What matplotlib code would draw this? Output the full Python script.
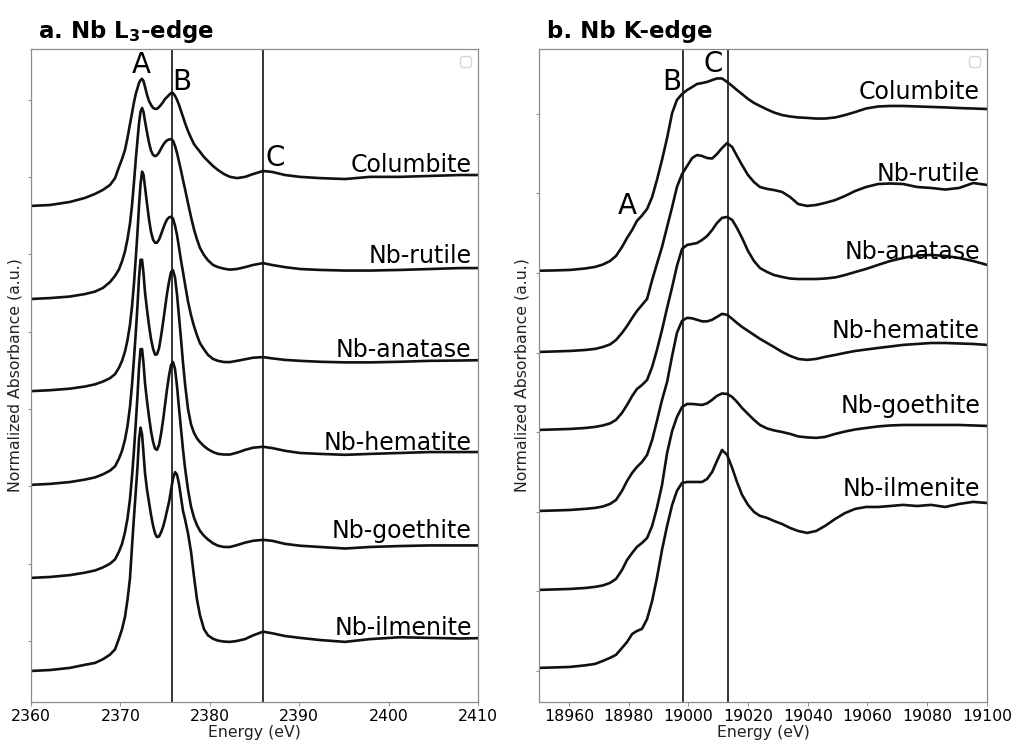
import numpy as np
import matplotlib
matplotlib.use('Agg')
import matplotlib.pyplot as plt

# ---- Nb L3-edge (panel a): common energy grid, normalized absorbance without offset ----
energy_l3 = [2360.00, 2362.13, 2364.36, 2366.04, 2367.16, 2368.05, 2368.84, 2369.40, 2369.84, 2370.18,
             2370.51, 2370.79, 2371.07, 2371.30, 2371.52, 2371.74, 2371.91, 2372.08, 2372.25, 2372.42,
             2372.58, 2372.75, 2372.98, 2373.20, 2373.42, 2373.65, 2373.87, 2374.09, 2374.32, 2374.54,
             2374.77, 2374.99, 2375.21, 2375.44, 2375.66, 2375.88, 2376.11, 2376.33, 2376.55, 2376.78,
             2377.00, 2377.23, 2377.56, 2377.90, 2378.23, 2378.57, 2378.90, 2379.35, 2379.80, 2380.36,
             2380.92, 2381.59, 2382.26, 2383.04, 2383.94, 2384.83, 2385.95, 2386.96, 2388.41, 2390.09,
             2392.33, 2395.12, 2397.92, 2401.28, 2404.63, 2407.99, 2410.00]

columbite_l3 = [-0.93, -0.90, -0.80, -0.67, -0.54, -0.41, -0.25, -0.03, 0.33, 0.59,
                0.88, 1.27, 1.72, 2.08, 2.43, 2.72, 2.88, 3.05, 3.14, 3.18,
                3.11, 2.92, 2.66, 2.46, 2.34, 2.24, 2.21, 2.21, 2.27, 2.34,
                2.43, 2.53, 2.59, 2.66, 2.72, 2.72, 2.63, 2.50, 2.34, 2.14,
                1.95, 1.75, 1.49, 1.27, 1.07, 0.94, 0.82, 0.65, 0.52, 0.36,
                0.23, 0.10, 0.01, -0.03, 0.01, 0.10, 0.20, 0.17, 0.07, 0.01,
                -0.03, -0.06, 0.01, 0.01, 0.04, 0.07, 0.07]
rutile_l3 = [-0.94, -0.91, -0.86, -0.78, -0.70, -0.58, -0.39, -0.19, 0.02, 0.28,
             0.60, 1.00, 1.50, 2.10, 2.85, 3.65, 4.20, 4.75, 5.12, 5.24,
             5.11, 4.81, 4.44, 4.11, 3.86, 3.72, 3.68, 3.71, 3.80, 3.92,
             4.04, 4.13, 4.19, 4.22, 4.23, 4.18, 4.01, 3.78, 3.51, 3.21,
             2.91, 2.61, 2.16, 1.71, 1.31, 0.98, 0.71, 0.48, 0.31, 0.16,
             0.09, 0.04, 0.01, 0.03, 0.09, 0.16, 0.22, 0.16, 0.09, 0.03,
             0.00, -0.02, -0.02, 0.00, 0.03, 0.06, 0.06]
anatase_l3 = [-0.92, -0.89, -0.84, -0.77, -0.70, -0.61, -0.50, -0.37, -0.16, 0.06,
              0.36, 0.73, 1.23, 1.83, 2.58, 3.48, 4.23, 5.08, 5.78, 6.18,
              6.08, 5.68, 5.13, 4.63, 4.23, 3.98, 3.88, 3.88, 3.98, 4.15,
              4.33, 4.50, 4.63, 4.70, 4.72, 4.66, 4.43, 4.13, 3.73, 3.30,
              2.93, 2.53, 1.98, 1.53, 1.18, 0.88, 0.63, 0.43, 0.25, 0.12,
              0.06, 0.02, 0.02, 0.06, 0.11, 0.16, 0.18, 0.14, 0.09, 0.06,
              0.03, 0.01, 0.01, 0.03, 0.06, 0.07, 0.08]
hematite_l3 = [-0.95, -0.92, -0.86, -0.78, -0.71, -0.61, -0.49, -0.35, -0.10, 0.15,
               0.51, 0.95, 1.57, 2.30, 3.15, 4.07, 4.85, 5.75, 6.33, 6.33,
               5.90, 5.27, 4.70, 4.20, 3.77, 3.45, 3.26, 3.27, 3.47, 3.85,
               4.30, 4.77, 5.23, 5.63, 5.93, 5.99, 5.75, 5.20, 4.50, 3.75,
               3.00, 2.30, 1.50, 1.00, 0.73, 0.55, 0.43, 0.30, 0.20, 0.11,
               0.05, 0.03, 0.03, 0.09, 0.18, 0.25, 0.28, 0.24, 0.15, 0.08,
               0.05, 0.02, 0.05, 0.08, 0.11, 0.11, 0.11]
goethite_l3 = [-0.96, -0.93, -0.87, -0.79, -0.72, -0.62, -0.50, -0.36, -0.11, 0.14,
               0.52, 0.96, 1.59, 2.34, 3.19, 4.14, 4.94, 5.84, 6.44, 6.44,
               5.99, 5.34, 4.74, 4.24, 3.79, 3.44, 3.22, 3.18, 3.34, 3.69,
               4.14, 4.64, 5.14, 5.59, 5.92, 6.02, 5.79, 5.24, 4.54, 3.84,
               3.19, 2.59, 1.89, 1.34, 0.99, 0.74, 0.56, 0.40, 0.28, 0.16,
               0.08, 0.04, 0.04, 0.10, 0.18, 0.24, 0.27, 0.24, 0.14, 0.08,
               0.04, -0.01, 0.04, 0.07, 0.09, 0.09, 0.09]
ilmenite_l3 = [-0.97, -0.94, -0.87, -0.77, -0.71, -0.59, -0.44, -0.27, 0.08, 0.38,
               0.78, 1.33, 2.03, 3.08, 4.03, 4.93, 5.63, 6.53, 6.90, 6.68,
               6.08, 5.43, 4.88, 4.48, 4.08, 3.73, 3.48, 3.36, 3.38, 3.51,
               3.69, 3.93, 4.21, 4.50, 4.88, 5.25, 5.46, 5.38, 5.08, 4.63,
               4.21, 3.93, 3.48, 2.88, 2.08, 1.33, 0.83, 0.38, 0.18, 0.07,
               0.01, -0.02, -0.03, 0.00, 0.06, 0.18, 0.30, 0.25, 0.16, 0.10,
               0.03, -0.03, 0.06, 0.12, 0.10, 0.08, 0.09]

# ---- Nb K-edge (panel b): common energy grid, normalized absorbance without offset ----
energy_k = [18950.0, 18955.4, 18960.4, 18965.4, 18968.8, 18971.4, 18973.8, 18975.8, 18977.8, 18979.5,
            18981.2, 18982.8, 18984.5, 18986.2, 18987.9, 18989.5, 18991.2, 18992.9, 18994.6, 18996.2,
            18997.9, 18999.6, 19001.3, 19002.9, 19004.6, 19006.3, 19008.0, 19009.6, 19011.3, 19013.0,
            19014.7, 19016.3, 19018.0, 19020.0, 19022.0, 19024.0, 19026.4, 19028.7, 19031.4, 19034.1,
            19036.8, 19039.8, 19042.8, 19045.8, 19049.2, 19052.5, 19055.9, 19059.5, 19063.6, 19067.6,
            19071.9, 19076.6, 19081.3, 19086.0, 19090.7, 19095.4, 19100.0]

columbite_k = [0.014, 0.016, 0.019, 0.028, 0.038, 0.053, 0.075, 0.107, 0.163, 0.220,
               0.270, 0.327, 0.361, 0.402, 0.477, 0.584, 0.710, 0.848, 1.005, 1.087,
               1.124, 1.149, 1.168, 1.187, 1.193, 1.200, 1.212, 1.222, 1.222, 1.200,
               1.175, 1.149, 1.124, 1.093, 1.068, 1.049, 1.027, 1.008, 0.992, 0.983,
               0.977, 0.974, 0.970, 0.970, 0.977, 0.992, 1.011, 1.033, 1.046, 1.049,
               1.049, 1.046, 1.043, 1.040, 1.036, 1.033, 1.030]
rutile_k = [0.004, 0.007, 0.010, 0.016, 0.023, 0.035, 0.051, 0.079, 0.123, 0.167,
            0.217, 0.261, 0.299, 0.337, 0.456, 0.557, 0.663, 0.789, 0.915, 1.040,
            1.121, 1.172, 1.222, 1.241, 1.235, 1.222, 1.219, 1.247, 1.285, 1.316,
            1.291, 1.235, 1.178, 1.115, 1.071, 1.040, 1.028, 1.021, 1.009, 0.977,
            0.933, 0.921, 0.927, 0.940, 0.958, 0.984, 1.015, 1.040, 1.059, 1.062,
            1.059, 1.040, 1.034, 1.024, 1.034, 1.065, 1.053]
anatase_k = [0.014, 0.017, 0.020, 0.026, 0.033, 0.042, 0.055, 0.077, 0.121, 0.171,
             0.227, 0.271, 0.296, 0.328, 0.410, 0.516, 0.642, 0.780, 0.912, 1.044,
             1.151, 1.176, 1.182, 1.188, 1.207, 1.232, 1.270, 1.314, 1.346, 1.352,
             1.333, 1.283, 1.220, 1.138, 1.075, 1.031, 1.006, 0.987, 0.975, 0.965,
             0.962, 0.962, 0.962, 0.965, 0.972, 0.987, 1.006, 1.025, 1.051, 1.075,
             1.094, 1.110, 1.113, 1.107, 1.094, 1.075, 1.051]
hematite_k = [0.005, 0.008, 0.011, 0.018, 0.024, 0.033, 0.049, 0.074, 0.131, 0.193,
              0.244, 0.281, 0.313, 0.357, 0.451, 0.570, 0.702, 0.815, 0.980, 1.124,
              1.199, 1.218, 1.215, 1.206, 1.196, 1.196, 1.206, 1.224, 1.243, 1.237,
              1.212, 1.186, 1.161, 1.136, 1.111, 1.086, 1.060, 1.035, 1.004, 0.979,
              0.960, 0.954, 0.960, 0.973, 0.985, 0.998, 1.010, 1.019, 1.029, 1.038,
              1.048, 1.054, 1.060, 1.060, 1.057, 1.054, 1.048]
goethite_k = [0.009, 0.012, 0.015, 0.021, 0.028, 0.037, 0.053, 0.078, 0.134, 0.197,
              0.241, 0.279, 0.304, 0.335, 0.411, 0.524, 0.668, 0.869, 1.008, 1.095,
              1.158, 1.177, 1.177, 1.174, 1.171, 1.181, 1.203, 1.228, 1.243, 1.240,
              1.221, 1.190, 1.152, 1.114, 1.077, 1.045, 1.023, 1.011, 1.001, 0.989,
              0.973, 0.967, 0.964, 0.970, 0.989, 1.004, 1.017, 1.026, 1.036, 1.042,
              1.045, 1.045, 1.045, 1.045, 1.045, 1.042, 1.039]
ilmenite_k = [0.019, 0.022, 0.025, 0.035, 0.044, 0.063, 0.082, 0.101, 0.144, 0.182,
              0.232, 0.251, 0.264, 0.326, 0.440, 0.584, 0.760, 0.911, 1.043, 1.131,
              1.181, 1.187, 1.187, 1.187, 1.187, 1.206, 1.250, 1.319, 1.388, 1.357,
              1.275, 1.187, 1.106, 1.043, 0.999, 0.974, 0.961, 0.942, 0.923, 0.898,
              0.879, 0.867, 0.879, 0.911, 0.955, 0.992, 1.018, 1.030, 1.030, 1.036,
              1.043, 1.036, 1.043, 1.030, 1.049, 1.062, 1.055]

samples = ['Columbite', 'Nb-rutile', 'Nb-anatase', 'Nb-hematite', 'Nb-goethite', 'Nb-ilmenite']
offsets_l3 = [15, 12, 9, 6, 3, 0]
offsets_k = [2.5, 2.0, 1.5, 1.0, 0.5, 0.0]
label_y_l3 = [15.17, 12.23, 9.18, 6.18, 3.33, 0.19]
label_y_k = [3.59, 3.08, 2.59, 2.09, 1.62, 1.10]

lines_l3 = [2375.8, 2386.0]  # features B and C
lines_k = [18998.3, 19013.3]  # features B and C
peaks_l3 = [('A', 2372.3, 18.63), ('B', 2376.9, 18.08), ('C', 2387.3, 15.62)]
peaks_k = [('A', 18979.6, 2.92), ('B', 18994.4, 3.70), ('C', 19008.3, 3.81)]

LINE_COLOR = '#111111'


def style_axis(ax):
    # grey frame, small unlabelled y ticks, empty legend box like the original
    for sp in ax.spines.values():
        sp.set_color('0.55')
        sp.set_linewidth(0.9)
    ax.tick_params(axis='y', length=2.5, width=0.6, color='0.5', labelleft=False)
    ax.tick_params(axis='x', length=3, width=0.6, color='0.5', labelsize=11.3, pad=2)
    ax.set_xlabel('Energy (eV)', fontsize=11.3, labelpad=1, color='#222222')
    ax.set_ylabel('Normalized Absorbance (a.u.)', fontsize=11.3, labelpad=4, color='#222222')
    ax.legend(handles=[], loc='upper right')


def draw_stack(ax, energy, spectra, offsets, label_x, label_y):
    for spec, off, name, ly in zip(spectra, offsets, samples, label_y):
        ax.plot(energy, np.array(spec) + off, color=LINE_COLOR, lw=1.9)
        ax.text(label_x, ly, name, ha='right', va='baseline', fontsize=17)


def plot_l3(ax):
    spectra = [columbite_l3, rutile_l3, anatase_l3, hematite_l3, goethite_l3, ilmenite_l3]
    draw_stack(ax, energy_l3, spectra, offsets_l3, 2409.3, label_y_l3)
    for e in lines_l3:
        ax.axvline(e, color=LINE_COLOR, lw=1.2)
    for lab, x, y in peaks_l3:
        ax.text(x, y, lab, ha='center', va='center', fontsize=20)
    ax.set_xlim(2360, 2410)
    ax.set_ylim(-1.973, 19.146)
    ax.set_xticks([2360, 2370, 2380, 2390, 2400, 2410])
    ax.set_yticks(np.arange(0, 18, 2.5))
    style_axis(ax)
    ax.text(0.016, 1.017, 'a. Nb L$_\\mathbf{3}$-edge', transform=ax.transAxes,
            fontsize=16.5, fontweight='bold', ha='left', va='baseline')


def plot_k(ax):
    spectra = [columbite_k, rutile_k, anatase_k, hematite_k, goethite_k, ilmenite_k]
    draw_stack(ax, energy_k, spectra, offsets_k, 19097.7, label_y_k)
    for e in lines_k:
        ax.axvline(e, color=LINE_COLOR, lw=1.2)
    for lab, x, y in peaks_k:
        ax.text(x, y, lab, ha='center', va='center', fontsize=20)
    ax.set_xlim(18950, 19100)
    ax.set_ylim(-0.195, 3.907)
    ax.set_xticks(np.arange(18960, 19101, 20))
    ax.set_yticks(np.arange(0, 3.6, 0.5))
    style_axis(ax)
    ax.text(0.018, 1.017, 'b. Nb K-edge', transform=ax.transAxes,
            fontsize=16.5, fontweight='bold', ha='left', va='baseline')


if __name__ == '__main__':
    fig = plt.figure(figsize=(10.11, 7.40), dpi=100)
    ax_a = fig.add_axes([0.0307, 0.0514, 0.4421, 0.8824])
    ax_b = fig.add_axes([0.5331, 0.0514, 0.4431, 0.8824])
    plot_l3(ax_a)
    plot_k(ax_b)
    fig.savefig('out.png', dpi=100)
